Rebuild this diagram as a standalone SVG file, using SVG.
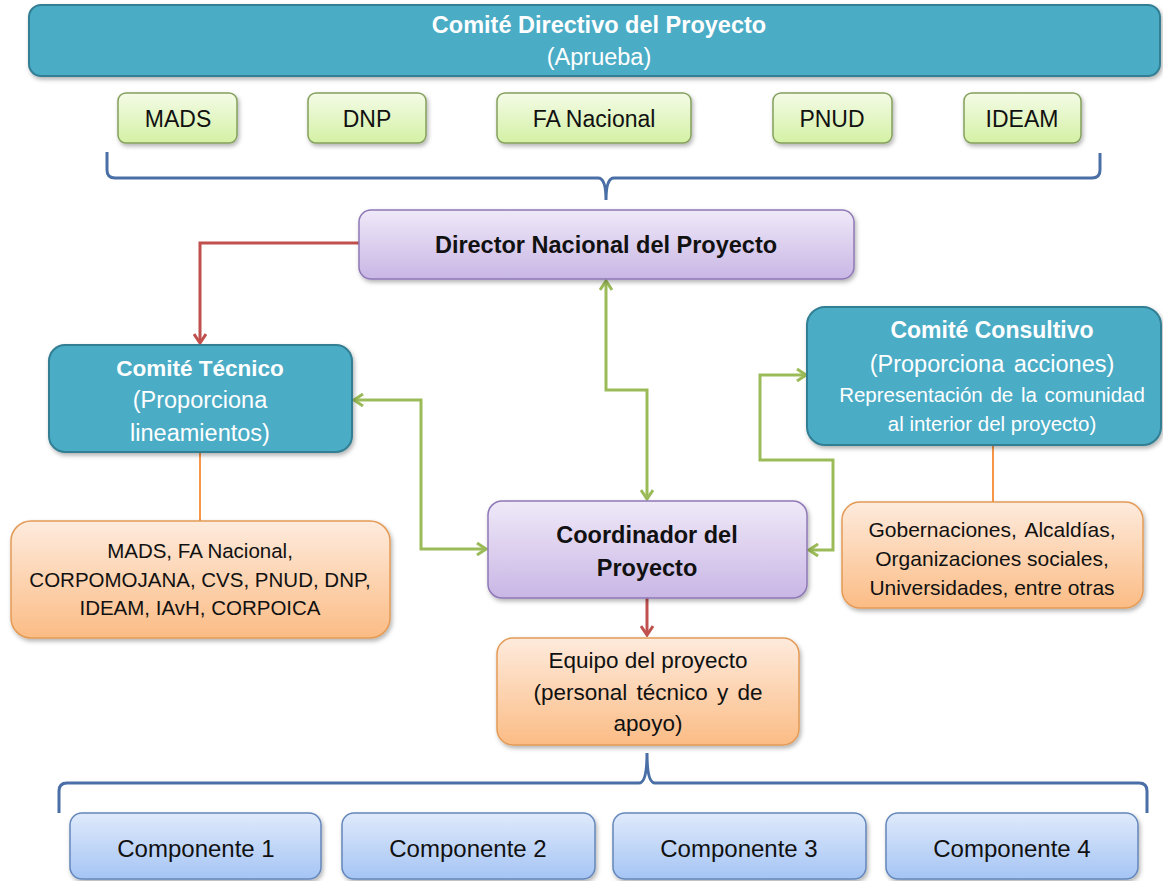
<svg xmlns="http://www.w3.org/2000/svg" width="1163" height="881" viewBox="0 0 1163 881">
<style>
text{font-family:"Liberation Sans",Arial,sans-serif;text-anchor:middle;fill:#111}
.b{font-weight:bold}
.w{fill:#fff}
.t{fill:#4BACC6;stroke:#327E93;stroke-width:2}
.g{fill:url(#gG);stroke:#84A05C;stroke-width:1.5}
.p{fill:url(#gP);stroke:#8E78B6;stroke-width:1.5}
.o{fill:url(#gO);stroke:#E39A55;stroke-width:1.5}
.bl{fill:url(#gB);stroke:#6487BB;stroke-width:1.5}
.br{fill:none;stroke:#4A6FA6;stroke-width:3}
.cg{fill:none;stroke:#9BBB59;stroke-width:3;marker-start:url(#aG);marker-end:url(#aG)}
.cr{fill:none;stroke:#C0504D;stroke-width:3;marker-end:url(#aR)}
.co{fill:none;stroke:#F79646;stroke-width:2}
.s{filter:url(#sh)}
</style>
<defs>
<linearGradient id="gG" x1="0" y1="0" x2="0" y2="1"><stop offset="0" stop-color="#F4FBE7"/><stop offset="1" stop-color="#D4F1A4"/></linearGradient>
<linearGradient id="gP" x1="0" y1="0" x2="0" y2="1"><stop offset="0" stop-color="#EFE9F8"/><stop offset="1" stop-color="#C9B6E5"/></linearGradient>
<linearGradient id="gO" x1="0" y1="0" x2="0" y2="1"><stop offset="0" stop-color="#FEEBDD"/><stop offset="1" stop-color="#FBBC85"/></linearGradient>
<linearGradient id="gB" x1="0" y1="0" x2="0" y2="1"><stop offset="0" stop-color="#DFEAFB"/><stop offset="1" stop-color="#A5C4F4"/></linearGradient>
<filter id="sh" x="-10%" y="-10%" width="120%" height="130%"><feDropShadow dx="1.5" dy="2.5" stdDeviation="2" flood-color="#000" flood-opacity="0.3"/></filter>
<marker id="aG" viewBox="0 0 14 14" markerWidth="14" markerHeight="14" refX="12" refY="7" markerUnits="userSpaceOnUse" orient="auto-start-reverse"><path d="M3,1 L12,7 L3,13" fill="none" stroke="#9BBB59" stroke-width="3"/></marker>
<marker id="aR" viewBox="0 0 14 14" markerWidth="14" markerHeight="14" refX="12" refY="7" markerUnits="userSpaceOnUse" orient="auto"><path d="M3,1 L12,7 L3,13" fill="none" stroke="#C0504D" stroke-width="3"/></marker>
</defs>

<g id="connectors">
<path class="cr" d="M359,243 H200 V343"/>
<path class="cr" d="M647,598 V635"/>
<path class="cg" d="M606,281 V390 H647 V499"/>
<path class="cg" d="M354,400 H421 V549 H486"/>
<path class="cg" d="M806,375 H760 V460 H833 V550 H809"/>
<path class="co" d="M200,452 V521"/>
<path class="co" d="M993,445 V502"/>
<path class="br" d="M107,152 V170 Q107,178 115,178 H598 Q606,178 606,200 Q606,178 614,178 H1092 Q1100,178 1100,170 V153"/>
<path class="br" d="M59,813 V791 Q59,783 67,783 H639 Q647,783 647,753 Q647,783 655,783 H1139 Q1147,783 1147,791 V813"/>
</g>

<g id="comite-directivo"><rect class="t s" x="29" y="5" width="1131" height="71" rx="12"/>
<text class="b w" x="599" y="33" font-size="23.5">Comité Directivo del Proyecto</text>
<text class="w" x="599" y="65" font-size="23.5">(Aprueba)</text></g>

<g id="mads"><rect class="g s" x="118" y="93" width="119" height="50" rx="8"/><text x="178" y="127" font-size="23">MADS</text></g>
<g id="dnp"><rect class="g s" x="308" y="93" width="118" height="50" rx="8"/><text x="367" y="127" font-size="23">DNP</text></g>
<g id="fa-nacional"><rect class="g s" x="497" y="93" width="194" height="50" rx="8"/><text x="594" y="127" font-size="23">FA Nacional</text></g>
<g id="pnud"><rect class="g s" x="773" y="93" width="119" height="50" rx="8"/><text x="832" y="127" font-size="23">PNUD</text></g>
<g id="ideam"><rect class="g s" x="964" y="93" width="117" height="50" rx="8"/><text x="1022" y="127" font-size="23">IDEAM</text></g>

<g id="director"><rect class="p s" x="359" y="210" width="495" height="69" rx="12"/>
<text class="b" x="606" y="253" font-size="23.5">Director Nacional del Proyecto</text></g>

<g id="comite-tecnico"><rect class="t s" x="49" y="345" width="303" height="107" rx="16"/>
<text class="b w" x="200" y="376" font-size="22.5">Comité Técnico</text>
<text class="w" x="200" y="408" font-size="23.5">(Proporciona</text>
<text class="w" x="200" y="441" font-size="23.5">lineamientos)</text></g>

<g id="comite-consultivo"><rect class="t s" x="807" y="307" width="354" height="138" rx="18"/>
<text class="b w" x="992" y="338" font-size="23">Comité Consultivo</text>
<text class="w" x="992" y="372" font-size="23.5" word-spacing="3">(Proporciona acciones)</text>
<text class="w" x="992" y="402" font-size="20.5" word-spacing="2">Representación de la comunidad</text>
<text class="w" x="992" y="431" font-size="20.5">al interior del proyecto)</text></g>

<g id="entidades-tecnico"><rect class="o s" x="11" y="521" width="379" height="117" rx="20"/>
<text x="200" y="558" font-size="20.5">MADS, FA Nacional,</text>
<text x="200" y="587" font-size="20.5">CORPOMOJANA, CVS, PNUD, DNP,</text>
<text x="200" y="615" font-size="20.5">IDEAM, IAvH, CORPOICA</text></g>

<g id="coordinador"><rect class="p s" x="488" y="501" width="319" height="97" rx="14"/>
<text class="b" x="647" y="543" font-size="23.5">Coordinador del</text>
<text class="b" x="647" y="576" font-size="23.5">Proyecto</text></g>

<g id="entidades-consultivo"><rect class="o s" x="842" y="502" width="301" height="106" rx="18"/>
<text x="992" y="537" font-size="21" word-spacing="3">Gobernaciones, Alcaldías,</text>
<text x="992" y="566" font-size="21">Organizaciones sociales,</text>
<text x="992" y="595" font-size="21">Universidades, entre otras</text></g>

<g id="equipo"><rect class="o s" x="497" y="638" width="302" height="107" rx="16"/>
<text x="648" y="668" font-size="22.5">Equipo del proyecto</text>
<text x="648" y="700" font-size="22.5" word-spacing="3">(personal técnico y de</text>
<text x="648" y="731" font-size="22.5">apoyo)</text></g>

<g id="componente-1"><rect class="bl s" x="70" y="813" width="251" height="66" rx="12"/><text x="196" y="857" font-size="24">Componente 1</text></g>
<g id="componente-2"><rect class="bl s" x="342" y="813" width="253" height="66" rx="12"/><text x="468" y="857" font-size="24">Componente 2</text></g>
<g id="componente-3"><rect class="bl s" x="613" y="813" width="253" height="66" rx="12"/><text x="739" y="857" font-size="24">Componente 3</text></g>
<g id="componente-4"><rect class="bl s" x="886" y="813" width="252" height="66" rx="12"/><text x="1012" y="857" font-size="24">Componente 4</text></g>
</svg>
